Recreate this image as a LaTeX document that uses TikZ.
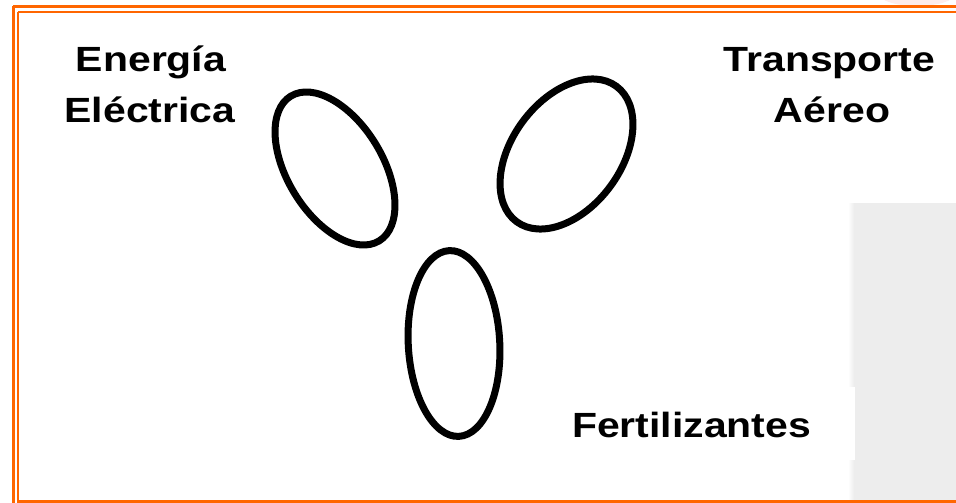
\documentclass[tikz,border=0pt]{standalone}
\usepackage{fontspec}
\newfontfamily\lblfont[FakeStretch=1.17]{Liberation Sans}
\usetikzlibrary{shapes.geometric}
\definecolor{frameorange}{RGB}{255,102,0}
\definecolor{panelgray}{RGB}{237,237,237}
\definecolor{faintpink}{RGB}{253,236,236}
\tikzset{
  loop/.style={draw=black, line width=7pt, ellipse, inner sep=0pt, outer sep=0pt},
  lbl/.style={anchor=base, inner sep=0pt, font=\lblfont\bfseries\fontsize{35}{40}\selectfont, text=black},
  frameline/.style={draw=frameorange}
}
\begin{document}
\begin{tikzpicture}[x=1pt, y=-1pt]
\useasboundingbox (0,0) rectangle (956,503);
\begin{scope}
\clip (0,0) rectangle (956,503);
% faint blob at top right
\fill[faintpink] (917,-6) ellipse [x radius=38pt, y radius=12pt];
% grey panel
\shade[left color=white, right color=panelgray] (848,203) rectangle (854,503);
\fill[panelgray] (854,203) rectangle (960,503);
% white text box
\fill[white] (540,387) rectangle (855,460);
% frame
\draw[frameline, line width=3pt] (13,6.5) -- (970,6.5);
\draw[frameline, line width=3pt] (13,6.5) -- (13,520);
\draw[frameline, line width=2.4pt] (18,12) -- (970,12);
\draw[frameline, line width=2.4pt] (18,12) -- (18,501.5) -- (970,501.5);
\end{scope}
% ellipses
\node[loop, minimum width=95pt, minimum height=169.6pt, rotate=31.4] (eleft) at (335,168.5) {};
\node[loop, minimum width=109pt, minimum height=168.2pt, rotate=-36.4] (eright) at (566.5,154) {};
\node[loop, minimum width=91.5pt, minimum height=186pt, rotate=3] (ebottom) at (454,343.5) {};
% labels
\node[lbl] (energia) at (151,71) {Energía};
\node[lbl] (electrica) at (150,122) {Eléctrica};
\node[lbl] (transporte) at (829.5,71) {Transporte};
\node[lbl] (aereo) at (832,122) {Aéreo};
\node[lbl] (fert) at (691.5,437) {Fertilizantes};
\end{tikzpicture}
\end{document}
